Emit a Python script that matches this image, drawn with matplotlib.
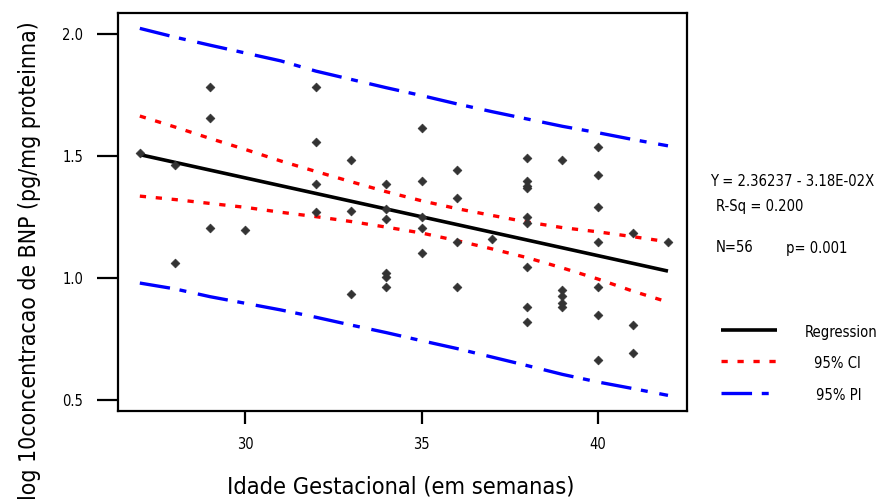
import matplotlib
matplotlib.use("Agg")
import matplotlib.pyplot as plt
from matplotlib.lines import Line2D
from matplotlib import font_manager
from matplotlib.font_manager import FontProperties

# ---------------- data ----------------
age_weeks = [27,
             28, 28,
             29, 29, 29,
             30,
             32, 32, 32, 32,
             33, 33, 33,
             34, 34, 34, 34, 34, 34,
             35, 35, 35, 35, 35,
             36, 36, 36, 36,
             37,
             38, 38, 38, 38, 38, 38, 38, 38, 38,
             39, 39, 39, 39, 39,
             40, 40, 40, 40, 40, 40, 40,
             41, 41, 41,
             42]
log_bnp = [1.511,
           1.461, 1.062,
           1.782, 1.652, 1.202,
           1.195,
           1.782, 1.557, 1.383, 1.267,
           1.482, 1.273, 0.932,
           1.383, 1.280, 1.240, 1.020, 1.001, 0.962,
           1.611, 1.397, 1.249, 1.204, 1.103,
           1.443, 1.327, 1.147, 0.962,
           1.157,
           1.489, 1.397, 1.376, 1.366, 1.249, 1.225, 1.042, 0.878, 0.817,
           1.480, 0.950, 0.924, 0.898, 0.878,
           1.535, 1.419, 1.288, 1.148, 0.962, 0.847, 0.662,
           1.181, 0.808, 0.692,
           1.147]

reg_x = [27, 42]
reg_y = [1.504, 1.027]

band_x = [27, 28, 29, 30, 31, 32, 33, 34, 35, 36, 37, 38, 39, 40, 41, 42]
ci_upper = [1.662, 1.617, 1.570, 1.525, 1.478, 1.435, 1.393, 1.352, 1.315,
            1.283, 1.255, 1.228, 1.205, 1.188, 1.168, 1.147]
ci_lower = [1.334, 1.320, 1.304, 1.288, 1.268, 1.250, 1.230, 1.207, 1.183,
            1.152, 1.118, 1.082, 1.040, 0.995, 0.945, 0.900]
pi_upper = [2.021, 1.985, 1.952, 1.920, 1.888, 1.846, 1.812, 1.778, 1.746,
            1.712, 1.680, 1.650, 1.620, 1.594, 1.566, 1.540]
pi_lower = [0.978, 0.954, 0.922, 0.895, 0.868, 0.838, 0.806, 0.775, 0.742,
            0.710, 0.675, 0.640, 0.604, 0.573, 0.546, 0.518]

x_ticks = [30, 35, 40]
y_ticks = [0.5, 1.0, 1.5, 2.0]

# ---------------- font: prefer a narrow / condensed sans ----------------
def pick_font():
    prefs = ["liberationsansnarrow-regular", "dejavusanscondensed.",
             "opensans_condensed-regular", "opensans-condensedregular",
             "robotocondensed-regular", "notosans-condensed.",
             "notosanscondensed-regular"]
    files = [f.fname for f in font_manager.fontManager.ttflist]
    low = [p.lower().replace(" ", "") for p in files]
    for pref in prefs:
        for fn, l in zip(files, low):
            if pref in l.split("/")[-1]:
                return FontProperties(fname=fn)
    for fn, l in zip(files, low):
        base = l.split("/")[-1]
        if ("narrow" in base or "condensed" in base) and "bold" not in base \
                and "italic" not in base and "oblique" not in base \
                and "light" not in base and "semi" not in base:
            return FontProperties(fname=fn)
    return FontProperties(family="Liberation Sans")

FP = pick_font()
plt.rcParams['lines.scale_dashes'] = False

W, H = 882, 501
fig = plt.figure(figsize=(W / 100, H / 100), dpi=100)
ax = fig.add_axes([118 / W, 1 - 411 / H, (687 - 118) / W, (411 - 13) / H])

ax.set_xlim(26.38, 42.54)
ax.set_ylim(0.454, 2.084)

reg_style = dict(color='black', lw=2.6, solid_capstyle='butt')
ci_style = dict(color='#ff0000', lw=2.4, dashes=(4.5, 7.0))
pi_style = dict(color='#0000ff', lw=2.4, dashes=(22, 7, 5, 8.5))

ax.plot(reg_x, reg_y, **reg_style, zorder=3)
ax.plot(band_x, ci_upper, **ci_style, zorder=3)
ax.plot(band_x, ci_lower, **ci_style, zorder=3)
ax.plot(band_x, pi_upper, **pi_style, zorder=3)
ax.plot(band_x, pi_lower, **pi_style, zorder=3)
ax.scatter(age_weeks, log_bnp, marker='D', s=20, color='#333333',
           edgecolors='#333333', linewidths=0.5, zorder=4)

for s in ax.spines.values():
    s.set_linewidth(1.6)
tick_fp = FP.copy()
tick_fp.set_size(10.5)
ax.set_xticks(x_ticks)
ax.set_xticklabels([str(v) for v in x_ticks], fontproperties=tick_fp)
ax.set_yticks(y_ticks)
ax.set_yticklabels([f"{v:.1f}" for v in y_ticks], fontproperties=tick_fp)
ax.tick_params(axis='x', direction='out', length=9.5, width=1.6, pad=9)
ax.tick_params(axis='y', direction='out', length=15, width=1.6, pad=10)

renderer = fig.canvas.get_renderer()

def measure(s, size, dim='w', rotation=0):
    fp = FP.copy()
    fp.set_size(size)
    t = fig.text(0, 0, s, fontproperties=fp, rotation=rotation)
    bb = t.get_window_extent(renderer)
    t.remove()
    return bb.width if dim == 'w' else bb.height

def fitted(s, target, dim='w', rotation=0):
    return 12 * target / measure(s, 12, dim, rotation)

def add_text(x, y, s, size, **kw):
    fp = FP.copy()
    fp.set_size(size)
    return fig.text(x / W, 1 - y / H, s, fontproperties=fp, **kw)

xl_size = fitted("Idade Gestacional (em semanas)", 348)
yl_size = fitted("log 10concentracao de BNP (pg/mg proteinna)", 478, 'h', 90)
ann_size = fitted("Regression", 73)
eq_text = "Y = 2.36237 - 3.18E-02X"
eq_w = measure(eq_text, ann_size)
eq_x = min(710, 876 - eq_w)

add_text(401, 487, "Idade Gestacional (em semanas)", xl_size,
         ha='center', va='center')
add_text(30, 261, "log 10concentracao de BNP (pg/mg proteinna)", yl_size,
         ha='center', va='center', rotation=90)

add_text(eq_x, 181, eq_text, ann_size, ha='left', va='center')
add_text(716, 206, "R-Sq = 0.200", ann_size, ha='left', va='center')
add_text(716, 248, "N=56", ann_size, ha='left', va='center')
add_text(786, 248, "p= 0.001", ann_size, ha='left', va='center')

leg_items = [("Regression", reg_style, 330, 805),
             ("95% CI", ci_style, 361, 814),
             ("95% PI", pi_style, 393, 816)]
for label, st, ypx, xtext in leg_items:
    ln = Line2D([721 / W, 777 / W], [1 - ypx / H, 1 - ypx / H],
                transform=fig.transFigure, **st)
    fig.add_artist(ln)
    add_text(xtext, ypx + 2, label, ann_size, ha='left', va='center')

fig.savefig("out.png", dpi=100)
